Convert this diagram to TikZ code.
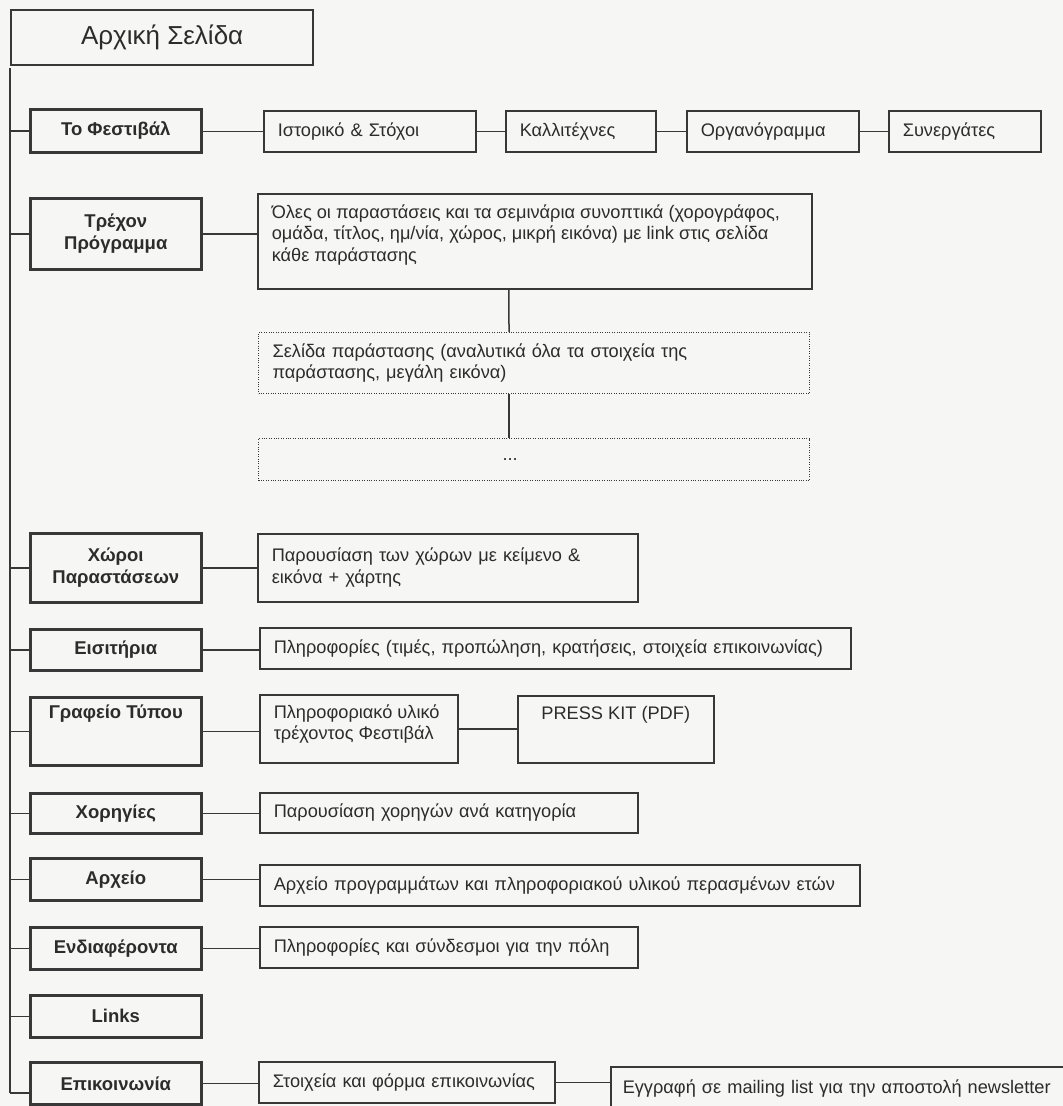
\documentclass[tikz,border=0pt]{standalone}
\usepackage{fontspec}
\setmainfont{Liberation Sans}
\definecolor{ink}{HTML}{383838}
\definecolor{inktext}{HTML}{2C2C2C}
\definecolor{paper}{HTML}{F6F6F4}

\begin{document}
\begin{tikzpicture}[x=1pt, y=-1pt,
  every node/.style={text=inktext},
  home/.style={draw=ink, line width=2.4pt, anchor=north west, inner sep=0pt,
    minimum width=302pt, minimum height=55pt, font=\fontsize{26}{30}\selectfont},
  lvl/.style={draw=ink, line width=2.6pt, anchor=north west, inner sep=0pt, align=center,
    minimum width=171pt, minimum height=42pt, font=\bfseries\fontsize{18.5}{22}\selectfont},
  leaf/.style={draw=ink, line width=1.5pt, anchor=north west, align=left,
    inner xsep=14pt, inner ysep=0pt, minimum height=41pt, font=\fontsize{18.2}{21.5}\selectfont},
  dotbox/.style={line width=1.1pt, dash pattern=on 1pt off 1.4pt},
  conn/.style={draw=ink, line width=1.5pt}]
  \clip (0,0) rectangle (1063,1106);
  \fill[paper] (0,0) rectangle (1063,1106);

  \node[home] (start) at (10,9) {Αρχική Σελίδα};

  \node[lvl, minimum height=43pt] (fest) at (29,108) {Το Φεστιβάλ};
  \node[lvl, minimum height=71pt] (prog) at (29,197) {Τρέχον\\Πρόγραμμα};
  \node[lvl, minimum height=69pt] (venue) at (29,532) {Χώροι\\Παραστάσεων};
  \node[lvl, minimum height=41pt] (tix) at (29,628) {Εισιτήρια};
  \node[lvl, inner ysep=8pt] (press) at (29,696) {\parbox[c][52pt][t]{160pt}{\centering Γραφείο Τύπου}};
  \node[lvl, minimum height=40pt] (spons) at (29,792) {Χορηγίες};
  \node[lvl] (arch) at (29,857) {Αρχείο};
  \node[lvl] (intr) at (29,926) {Ενδιαφέροντα};
  \node[lvl] (links) at (29,994) {Links};
  \node[lvl] (contact) at (29,1061) {Επικοινωνία};

  \node[leaf, text width=184pt] (hist) at (263,110) {Ιστορικό \& Στόχοι};
  \node[leaf, text width=122pt] (artists) at (505,110) {Καλλιτέχνες};
  \node[leaf, text width=144pt] (org) at (686,110) {Οργανόγραμμα};
  \node[leaf, text width=124pt] (partn) at (888,110) {Συνεργάτες};

  \node[leaf, inner ysep=11pt] (list) at (257,193) {\parbox[c][73pt][t]{526pt}{\raggedright
    Όλες οι παραστάσεις και τα σεμινάρια συνοπτικά (χορογράφος,\\
    ομάδα, τίτλος, ημ/νία, χώρος, μικρή εικόνα) με link στις σελίδα\\
    κάθε παράστασης}};
  \node[leaf, dotbox, text width=523pt, minimum height=61pt] (show) at (258,332)
    {Σελίδα παράστασης (αναλυτικά όλα τα στοιχεία της\\παράστασης, μεγάλη εικόνα)};
  \node[leaf, dotbox, text width=523pt, minimum height=42pt] (more) at (258,438)
    {\hspace*{230pt}...};

  \node[leaf, text width=352pt, minimum height=68pt] (venuetxt) at (257,533)
    {Παρουσίαση των χώρων με κείμενο \&\\εικόνα + χάρτης};
  \node[leaf, text width=563pt] (tixtxt) at (259,627)
    {Πληροφορίες (τιμές, προπώληση, κρατήσεις, στοιχεία επικοινωνίας)};
  \node[leaf, inner ysep=10pt] (pressinfo) at (259,694)
    {\parbox[c][48pt][t]{170pt}{\raggedright Πληροφοριακό υλικό\\τρέχοντος Φεστιβάλ}};
  \node[leaf, inner ysep=11pt] (kit) at (517,695)
    {\parbox[c][45pt][t]{168pt}{\centering PRESS KIT (PDF)}};
  \node[leaf, text width=350pt, minimum height=40pt] (sponstxt) at (259,792)
    {Παρουσίαση χορηγών ανά κατηγορία};
  \node[leaf, text width=572pt] (archtxt) at (259,864)
    {Αρχείο προγραμμάτων και πληροφοριακού υλικού περασμένων ετών};
  \node[leaf, text width=350pt] (intrtxt) at (259,926)
    {Πληροφορίες και σύνδεσμοι για την πόλη};
  \node[leaf, text width=268pt] (contacttxt) at (258,1061)
    {Στοιχεία και φόρμα επικοινωνίας};
  \node[leaf, text width=480pt, inner xsep=12pt, minimum height=44pt] (mail) at (610,1066)
    {Εγγραφή σε mailing list για την αποστολή newsletter};

  \coordinate (trtop) at (10,68);
  \coordinate (trbot) at (10,1093);

  \path[conn]
  (trtop) edge (trbot)
  (trbot) edge (trbot -| contact.west)
  (fest.west -| trtop) edge (fest.west)
  (prog.west -| trtop) edge (prog.west)
  (venue.west -| trtop) edge (venue.west)
  (tix.west -| trtop) edge (tix.west)
  (press.west -| trtop) edge (press.west)
  (spons.west -| trtop) edge (spons.west)
  (arch.west -| trtop) edge (arch.west)
  (intr.west -| trtop) edge (intr.west)
  (links.west -| trtop) edge (links.west)
  (hist.west -| fest.east) edge (hist.west)
  (hist.east) edge (artists.west)
  (artists.east) edge (org.west)
  (org.east) edge (partn.west)
  (prog.east) edge (prog.east -| list.west)
  ([xshift=-26pt]list.south) edge ([xshift=-25pt]show.north)
  ([xshift=-25pt]show.south) edge ([xshift=-25pt]more.north)
  (venue.east) edge (venue.east -| venuetxt.west)
  (tix.east) edge (tix.east -| tixtxt.west)
  (press.east) edge (press.east -| pressinfo.west)
  (pressinfo.east) edge (pressinfo.east -| kit.west)
  (spons.east) edge (spons.east -| sponstxt.west)
  (arch.east) edge (arch.east -| archtxt.west)
  (intr.east) edge (intr.east -| intrtxt.west)
  (contact.east) edge (contact.east -| contacttxt.west)
  (contacttxt.east) edge (contacttxt.east -| mail.west);
\end{tikzpicture}
\end{document}
